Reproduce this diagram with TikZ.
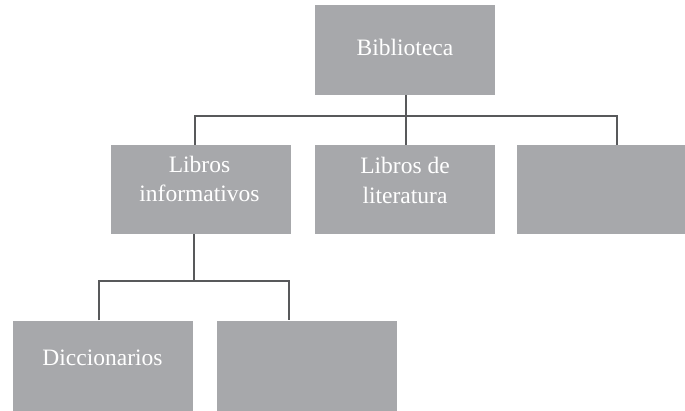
\documentclass[tikz,border=0pt]{standalone}
\usepackage{fontspec}
\setmainfont{Liberation Serif}
\definecolor{boxgray}{HTML}{A7A8AB}
\definecolor{linegray}{HTML}{58595B}
\begin{document}
\begin{tikzpicture}[x=1pt,y=1pt,
  box/.style={fill=boxgray,draw=none,minimum height=90pt,inner sep=0pt},
  lbl/.style={text=white,anchor=base,inner sep=0pt,font=\fontsize{23.5}{29}\selectfont},
  conn/.style={draw=linegray,line width=2.2pt,line join=miter}]
\useasboundingbox (0,0) rectangle (685,-411);
% boxes
\node[box,minimum width=180pt] (A) at (405,-50) {};
\node[box,minimum width=180pt,minimum height=89pt] (B1) at (201,-189.5) {};
\node[box,minimum width=180pt,minimum height=89pt] (B2) at (405,-189.5) {};
\node[box,minimum width=168.3pt,minimum height=89pt] (B3) at (600.85,-189.5) {};
\node[box,minimum width=180pt] (C1) at (102.7,-365.7) {};
\node[box,minimum width=179.4pt] (C2) at (307,-365.7) {};
% texts
\node[lbl] (tA) at (405,-56) {Biblioteca};
\node[lbl] (tB1a) at (199.5,-172.7) {Libros};
\node[lbl] (tB1b) at (199.5,-201.7) {informativos};
\node[lbl] (tB2a) at (405,-173.3) {Libros de};
\node[lbl] (tB2b) at (405,-203.3) {literatura};
\node[lbl] (tC1) at (102.5,-365) {Diccionarios};
% connectors
\coordinate (j1) at (406,-116);
\coordinate (j2) at (194,-281);
\draw[conn] (A.south -| j1) -- (j1);
\draw[conn] (j1) -- (B2.north -| j1);
\draw[conn] ([xshift=-6pt]B1.north) |- (j1) -| ([xshift=16.15pt]B3.north);
\draw[conn] (B1.south -| j2) -- (j2);
\draw[conn] ([xshift=-4pt]C1.north) |- (j2) -| ([xshift=-18.3pt]C2.north);
\end{tikzpicture}
\end{document}
